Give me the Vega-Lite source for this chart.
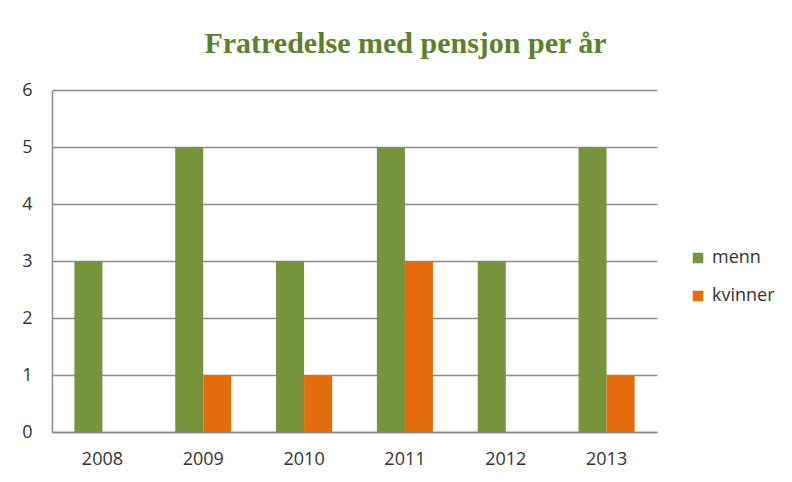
{
  "$schema": "https://vega.github.io/schema/vega-lite/v6.json",
  "width": 605,
  "height": 342,
  "autosize": "none",
  "padding": {"left": 52, "top": 90, "right": 135, "bottom": 50},
  "background": "white",
  "title": {
    "text": "Fratredelse med pensjon per år",
    "font": "Liberation Serif",
    "fontSize": 30,
    "fontWeight": "bold",
    "color": "#5E7F2E",
    "anchor": "middle",
    "dx": 51,
    "offset": 22
  },
  "data": {
    "values": [
      {"year": "2008", "series": "menn", "value": 3},
      {"year": "2008", "series": "kvinner", "value": 0},
      {"year": "2009", "series": "menn", "value": 5},
      {"year": "2009", "series": "kvinner", "value": 1},
      {"year": "2010", "series": "menn", "value": 3},
      {"year": "2010", "series": "kvinner", "value": 1},
      {"year": "2011", "series": "menn", "value": 5},
      {"year": "2011", "series": "kvinner", "value": 3},
      {"year": "2012", "series": "menn", "value": 3},
      {"year": "2012", "series": "kvinner", "value": 0},
      {"year": "2013", "series": "menn", "value": 5},
      {"year": "2013", "series": "kvinner", "value": 1}
    ]
  },
  "mark": {"type": "bar"},
  "encoding": {
    "x": {
      "field": "year",
      "type": "nominal",
      "title": null,
      "scale": {"paddingInner": 0.444, "paddingOuter": 0.222},
      "axis": {
        "labelAngle": 0,
        "labelFont": "Open Sans",
        "labelFontSize": 18,
        "labelColor": "#333333",
        "labelPadding": 18,
        "ticks": false,
        "domainColor": "#8C8C8C",
        "domainWidth": 1.5
      }
    },
    "xOffset": {"field": "series", "type": "nominal", "sort": ["menn", "kvinner"], "scale": {"paddingInner": 0, "paddingOuter": 0}},
    "y": {
      "field": "value",
      "type": "quantitative",
      "title": null,
      "scale": {"domain": [0, 6]},
      "axis": {
        "values": [0, 1, 2, 3, 4, 5, 6],
        "labelFont": "Open Sans",
        "labelFontSize": 18,
        "labelColor": "#333333",
        "labelPadding": 20,
        "ticks": false,
        "gridColor": "#8C8C8C",
        "gridWidth": 1.5,
        "domainColor": "#8C8C8C",
        "domainWidth": 1.5
      }
    },
    "color": {
      "field": "series",
      "type": "nominal",
      "sort": ["menn", "kvinner"],
      "scale": {"domain": ["menn", "kvinner"], "range": ["#77933C", "#E46C0A"]},
      "legend": {
        "title": null,
        "orient": "none",
        "legendX": 637,
        "legendY": 159,
        "symbolType": "square",
        "symbolSize": 110,
        "symbolStrokeWidth": 0,
        "labelFont": "Open Sans",
        "labelFontSize": 18,
        "labelColor": "#333333",
        "rowPadding": 20,
        "labelOffset": 5
      }
    }
  },
  "config": {"view": {"stroke": null}}
}
